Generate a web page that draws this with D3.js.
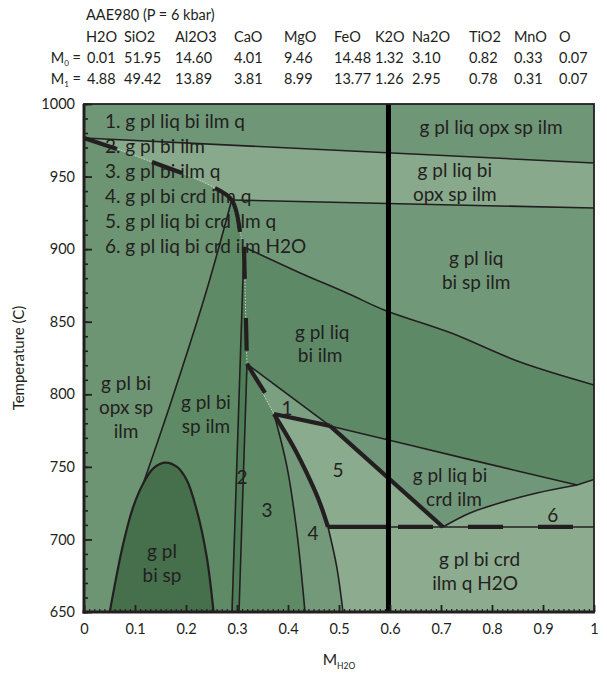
<!DOCTYPE html>
<html>
<head>
<meta charset="utf-8">
<script src="https://cdn.jsdelivr.net/npm/d3@7/dist/d3.min.js"></script>
<style>
html,body{margin:0;padding:0;background:#fff;}
svg text{font-family:Lato,"Open Sans",sans-serif;fill:#231f20;}
</style>
</head>
<body>
<svg id="chart" width="607" height="679"></svg>
<script>
// ---------------- composition table ----------------
const title = "AAE980 (P = 6 kbar)";
const oxides   = ["H2O","SiO2","Al2O3","CaO","MgO","FeO","K2O","Na2O","TiO2","MnO","O"];
const m0Values = ["0.01","51.95","14.60","4.01","9.46","14.48","1.32","3.10","0.82","0.33","0.07"];
const m1Values = ["4.88","49.42","13.89","3.81","8.99","13.77","1.26","2.95","0.78","0.31","0.07"];

// ---------------- axes ----------------
const xTicks = [0,0.1,0.2,0.3,0.4,0.5,0.6,0.7,0.8,0.9,1];
const xTickLabels = ["0","0.1","0.2","0.3","0.4","0.5","0.6","0.7","0.8","0.9","1"];
const yTicks = [650,700,750,800,850,900,950,1000];
const yLabel = "Temperature (C)";

// ---------------- field boundaries  [M_H2O, T(C)] ----------------
const topLine    = [[0,976.6],[1,959.4]];
const secondLine = [[0.2896,933.9],[1,928.3]];
const solidus1   = [[0,976.6],[0.0647,969.0],[0.1333,960.0],[0.1922,952.5],[0.2569,942.1],[0.2896,933.9]];
const solidusQR  = [[0.2896,933.9],[0.3059,911.8],[0.3137,901.5]];
const solidusRP1 = [[0.3137,901.5],[0.3166,861.5],[0.3196,820.9]];
const solidusP1P2= [[0.3196,820.9],[0.3725,786.4]];
const curveC     = [[0.3137,901.5],[0.4196,884.3],[0.5176,869.4],[0.5896,857.9],[0.7176,842.5],[0.855,822.2],[1,806.4]];
const lineP1X    = [[0.3196,820.9],[0.4824,778.2]];
const lineXE     = [[0.4824,778.2],[0.7569,755.0],[0.9667,737.5]];
const curveFE    = [[0.7039,708.6],[0.7569,718.2],[0.8216,725.8],[0.888,732.0],[0.9667,737.5]];
const curveE1    = [[0.9667,737.5],[1,741.3]];
const lineP2X    = [[0.3725,786.4],[0.4824,778.2]];
const lineXF     = [[0.4824,778.2],[0.7039,708.6]];
const curveP2G   = [[0.3725,786.4],[0.4104,764.0],[0.4431,741.0],[0.4627,725.0],[0.4784,708.6]];
const lineP2H    = [[0.3725,786.4],[0.398,750.0],[0.4176,704.4],[0.4333,650]];
const lineGI     = [[0.4784,708.6],[0.4955,681.3],[0.5078,650]];
const lineGF     = [[0.4784,708.6],[0.7039,708.6]];
const lineF1     = [[0.7039,708.6],[1,708.6]];
const lineL1     = [[0.3137,901.5],[0.2902,650]];
const lineL2     = [[0.3196,820.9],[0.3039,650]];
const lineQJ     = [[0.2896,933.9],[0.2406,871.8],[0.172,796.1],[0.1163,738.7]];
const domeLeft   = [[0.0505,650],[0.0771,697.3],[0.0967,722.6],[0.1163,738.7]];
const domeRight  = [[0.1163,738.7],[0.1359,749.0],[0.1588,752.9],[0.1818,750.1],[0.2014,740.9],[0.221,720.3],[0.2406,688.1],[0.254,650]];
const compositionLine = 0.597;

// thick (solidus) dash pieces
const thickPieces = [
  [[0,976.6],[0.0647,969.0]],
  [[0.1333,960.0],[0.1922,952.5]],
  [[0.2569,942.1],[0.2896,933.9],[0.3059,911.8]],
  [[0.3137,901.5],[0.3152,879.5]],
  [[0.3175,852.6],[0.3190,830.0]],
  [[0.3196,820.9],[0.3549,800.9]],
  lineP2X, lineXF, curveP2G,
  [[0.4784,708.6],[0.597,708.6]],
  [[0.6157,708.6],[0.6843,708.6]],
  [[0.7529,708.6],[0.8216,708.6]],
  [[0.8902,708.6],[0.9588,708.6]]
];

// ---------------- labels ----------------
const legendItems = ["1. g pl liq bi ilm q","2. g pl bi ilm","3. g pl bi ilm q","4. g pl bi crd ilm q","5. g pl liq bi crd ilm q","6. g pl liq bi crd ilm H2O"];
const legendT = [988.3,971.1,953.8,936.6,919.4,902.2];
const fieldLabels = [
  {t:"g pl liq opx sp ilm", at:[0.798,984.2]},
  {t:"g pl liq bi", at:[0.727,954.5]},
  {t:"opx sp ilm", at:[0.727,938.0]},
  {t:"g pl liq", at:[0.769,893.9]},
  {t:"bi sp ilm", at:[0.769,877.4]},
  {t:"g pl liq", at:[0.467,842.9]},
  {t:"bi ilm", at:[0.463,827.1]},
  {t:"g pl bi", at:[0.0824,807.8]},
  {t:"opx sp", at:[0.0824,791.2]},
  {t:"ilm", at:[0.0824,774.7]},
  {t:"g pl bi", at:[0.239,794.7]},
  {t:"sp ilm", at:[0.239,778.1]},
  {t:"g pl", at:[0.153,692.0]},
  {t:"bi sp", at:[0.153,675.5]},
  {t:"g pl liq bi", at:[0.7176,744.1]},
  {t:"crd ilm", at:[0.7255,727.6]},
  {t:"g pl bi crd", at:[0.7755,686.5]},
  {t:"ilm q H2O", at:[0.767,670.0]},
  {t:"1", at:[0.398,790.5]},
  {t:"2", at:[0.310,743.0]},
  {t:"3", at:[0.359,720.3]},
  {t:"4", at:[0.449,704.4]},
  {t:"5", at:[0.498,747.8]},
  {t:"6", at:[0.919,716.8]}
];

// ================= drawing =================
const svg = d3.select("#chart");
const X0=84, X1=594, Y0=104, Y1=612;
const x = d3.scaleLinear().domain([0,1]).range([X0,X1]);
const y = d3.scaleLinear().domain([650,1000]).range([Y1,Y0]);

svg.append("defs").append("clipPath").attr("id","plotclip")
  .append("rect").attr("x",X0).attr("y",Y0).attr("width",X1-X0).attr("height",Y1-Y0);

const lineGen = d3.line().x(d=>x(d[0])).y(d=>y(d[1])).curve(d3.curveCatmullRom.alpha(0.5));
const rev = a => a.slice().reverse();
function poly(segs){
  return segs.map((s,i)=>{const p=lineGen(s); return i? p.replace(/^M/,"L"):p;}).join("")+"Z";
}

const plot = svg.append("g").attr("clip-path","url(#plotclip)");

const regions = [
  {c:"#6d9473", d:poly([[[0,1000],[1,1000]],[[1,1000],[1,650]],[[1,650],[0,650]],[[0,650],[0,1000]]])},
  {c:"#6f9677", d:poly([[[0,1000],[1,1000]],[[1,1000],[1,959.4]],rev(topLine),[[0,976.6],[0,1000]]])},
  {c:"#89a98c", d:poly([topLine,[[1,959.4],[1,928.3]],rev(secondLine),rev(solidus1)])},
  {c:"#72987a", d:poly([secondLine,[[1,928.3],[1,806.4]],rev(curveC),rev(solidusQR)])},
  {c:"#5e8967", d:poly([curveC,[[1,806.4],[1,741.3]],rev(curveE1),rev(lineXE),rev(lineP1X),rev(solidusRP1)])},
  {c:"#5e8a66", d:poly([solidusQR,lineL1,[[0.2902,650],[0.254,650]],rev(domeRight),rev(lineQJ)])},
  {c:"#466f4c", d:poly([domeLeft,domeRight,[[0.254,650],[0.0505,650]]])},
  {c:"#4f7d58", d:poly([solidusRP1,lineL2,[[0.3039,650],[0.2902,650]],rev(lineL1)])},
  {c:"#5e8a66", d:poly([solidusP1P2,lineP2H,[[0.4333,650],[0.3039,650]],rev(lineL2)])},
  {c:"#7ba081", d:poly([solidusP1P2,lineP2X,rev(lineP1X)])},
  {c:"#73987a", d:poly([curveP2G,lineGI,[[0.5078,650],[0.4333,650]],rev(lineP2H)])},
  {c:"#8aab8e", d:poly([lineP2X,lineXF,rev(lineGF),rev(curveP2G)])},
  {c:"#71977a", d:poly([lineXE,rev(curveFE),rev(lineXF)])},
  {c:"#8aab8e", d:poly([curveFE,curveE1,[[1,741.3],[1,708.6]],rev(lineF1)])},
  {c:"#8cab8f", d:poly([lineGF,lineF1,[[1,708.6],[1,650]],[[1,650],[0.5078,650]],rev(lineGI)])}
];
plot.selectAll("path.region").data(regions).join("path")
  .attr("class","region").attr("d",d=>d.d).attr("fill",d=>d.c).attr("stroke",d=>d.c).attr("stroke-width",0.6);

// thin boundaries
const thinLines = [topLine,secondLine,curveC,lineP1X,lineXE,curveFE,curveE1,lineP2H,lineGI,lineGF,lineF1,lineL1,lineL2,lineQJ];
plot.selectAll("path.thin").data(thinLines).join("path").attr("class","thin")
  .attr("d",lineGen).attr("fill","none").attr("stroke","#231f20").attr("stroke-width",1.6);
plot.append("path").attr("d",lineGen(domeLeft.concat(domeRight.slice(1))))
  .attr("fill","none").attr("stroke","#231f20").attr("stroke-width",2.2);

// faint solidus trace
[solidus1,solidusQR,solidusRP1,solidusP1P2].forEach(s=>{
  plot.append("path").attr("d",lineGen(s)).attr("fill","none")
    .attr("stroke","#c9dccb").attr("stroke-width",1).attr("stroke-dasharray","1.5,1.5");
});

// thick pieces
plot.selectAll("path.thick").data(thickPieces).join("path").attr("class","thick")
  .attr("d",lineGen).attr("fill","none").attr("stroke","#231f20").attr("stroke-width",4.2);

// composition line
plot.append("line").attr("x1",x(compositionLine)).attr("x2",x(compositionLine))
  .attr("y1",Y0).attr("y2",Y1).attr("stroke","#000").attr("stroke-width",5);

// axes
const minorY = d3.range(650,1001,10);
const minorX = d3.range(0,101,1).map(v=>v/100);
svg.append("g").attr("transform",`translate(${X0},0)`)
  .call(d3.axisLeft(y).tickValues(minorY).tickSize(-4).tickFormat(""))
  .call(g=>g.select(".domain").remove()).selectAll("line").attr("stroke","#231f20").attr("stroke-width",1.6);
const ya = svg.append("g").attr("transform",`translate(${X0},0)`)
  .call(d3.axisLeft(y).tickValues(yTicks).tickSize(-8).tickPadding(9).tickFormat(d3.format("d")));
ya.select(".domain").remove();
ya.selectAll("line").attr("stroke","#231f20").attr("stroke-width",1.8);
ya.selectAll("text").attr("font-size",14.5).attr("font-family","Lato").attr("fill","#231f20");

svg.append("g").attr("transform",`translate(0,${Y1})`)
  .call(d3.axisBottom(x).tickValues(minorX).tickSize(-3).tickFormat(""))
  .call(g=>g.select(".domain").remove()).selectAll("line").attr("stroke","#231f20").attr("stroke-width",1.2);
const xa = svg.append("g").attr("transform",`translate(0,${Y1})`)
  .call(d3.axisBottom(x).tickValues(xTicks).tickSize(-7).tickPadding(12).tickFormat((d,i)=>xTickLabels[i]));
xa.select(".domain").remove();
xa.selectAll("line").attr("stroke","#231f20").attr("stroke-width",1.8);
xa.selectAll("text").attr("font-size",14.5).attr("font-family","Lato").attr("fill","#231f20");

// frame
svg.append("rect").attr("x",X0).attr("y",Y0).attr("width",X1-X0).attr("height",Y1-Y0)
  .attr("fill","none").attr("stroke","#231f20").attr("stroke-width",1.8);
svg.append("line").attr("x1",X0).attr("x2",X0).attr("y1",Y0).attr("y2",Y1+1.5).attr("stroke","#231f20").attr("stroke-width",3);
svg.append("line").attr("x1",X0-1.5).attr("x2",X1+1).attr("y1",Y1).attr("y2",Y1).attr("stroke","#231f20").attr("stroke-width",3);

// axis titles
svg.append("text").attr("transform",`translate(24,${(Y0+Y1)/2}) rotate(-90)`)
  .attr("text-anchor","middle").attr("font-size",15).text(yLabel);
const xt = svg.append("text").attr("x",(X0+X1)/2).attr("y",665).attr("text-anchor","middle").attr("font-size",15.5);
xt.append("tspan").text("M");
xt.append("tspan").attr("font-size",8.5).attr("dy",4).text("H2O");

// legend & field labels
const tl = svg.append("g").attr("font-size",19);
tl.selectAll("text.leg").data(legendItems).join("text").attr("class","leg")
  .attr("x",105).attr("y",(d,i)=>y(legendT[i])).attr("dy","0.35em").text(d=>d);
tl.selectAll("text.fl").data(fieldLabels).join("text").attr("class","fl")
  .attr("x",d=>x(d.at[0])).attr("y",d=>y(d.at[1])).attr("dy","0.35em")
  .attr("text-anchor","middle").text(d=>d.t);

// composition header
const colX = [86,124,175,234,284,334,375,412,469,514,559];
const hd = svg.append("g").attr("font-size",14.5);
hd.append("text").attr("x",86).attr("y",20).text(title);
hd.selectAll("text.ox").data(oxides).join("text").attr("class","ox")
  .attr("x",(d,i)=>colX[i]).attr("y",42).text(d=>d);
[[m0Values,"0",63],[m1Values,"1",84]].forEach(([vals,sub,yy])=>{
  const t = hd.append("text").attr("x",81).attr("y",yy).attr("text-anchor","end");
  t.append("tspan").text("M");
  t.append("tspan").attr("font-size",8).attr("dy",3).text(sub);
  t.append("tspan").attr("dy",-3).text(" =");
  hd.selectAll(null).data(vals).join("text")
    .attr("x",(d,i)=>colX[i]+(i===0?1:0)).attr("y",yy).text(d=>d);
});
</script>
</body>
</html>
